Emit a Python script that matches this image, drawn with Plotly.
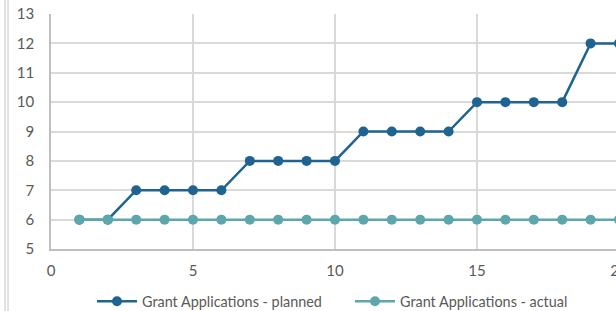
import plotly.graph_objects as go

x_vals = list(range(1, 21))
planned = [6, 6, 7, 7, 7, 7, 8, 8, 8, 8, 9, 9, 9, 9, 10, 10, 10, 10, 12, 12]
actual = [6] * 20
series_names = ["Grant Applications - planned", "Grant Applications - actual"]
x_ticks = [0, 5, 10, 15, 20]
x_range = [0, 20]

# the figure is a little wider than the 616 px window; its right edge is cut off like the reference
W, H = 632, 311
L, R, T, B = 51, 13, 14, 62
pw = W - L - R

fig = go.Figure()
fig.add_trace(go.Scatter(x=x_vals, y=planned, mode="lines+markers", name=series_names[0],
                         line=dict(color="#1F6391", width=2.5),
                         marker=dict(size=10, color="#1F6391"), cliponaxis=False,
                         legend="legend"))
fig.add_trace(go.Scatter(x=x_vals, y=actual, mode="lines+markers", name=series_names[1],
                         line=dict(color="#5DA6AC", width=2.5),
                         marker=dict(size=10, color="#5DA6AC"), cliponaxis=False,
                         legend="legend2"))

for px in (5, 8):
    xp = (px - L) / pw
    fig.add_shape(type="line", xref="paper", yref="paper", x0=xp, x1=xp, y0=-1, y1=2,
                  line=dict(color="#D9D9D9", width=1.5), layer="above")

leg_common = dict(orientation="h", y=-0.155, yanchor="top", xanchor="left",
                  font=dict(size=14.4, color="#595959"), itemwidth=40, bgcolor="rgba(0,0,0,0)")

fig.update_layout(
    width=W, height=H, margin=dict(l=L, r=R, t=T, b=B, autoexpand=False),
    paper_bgcolor="white", plot_bgcolor="white",
    font=dict(family="Lato, Open Sans, sans-serif", size=15, color="#595959"),
    showlegend=True,
    legend=dict(x=(92 - L) / pw, **leg_common),
    legend2=dict(x=(350 - L) / pw, **leg_common),
    xaxis=dict(range=x_range, tickvals=x_ticks, showgrid=True, gridcolor="#D9D9D9",
               gridwidth=1.5, showline=True, linecolor="#BFBFBF", linewidth=1.5, zeroline=False,
               ticks="", ticklabelstandoff=7, automargin=False),
    yaxis=dict(range=[5, 13], dtick=1, showgrid=True, gridcolor="#D9D9D9", gridwidth=1.5,
               showline=True, linecolor="#BFBFBF", linewidth=1.5, zeroline=False, ticks="",
               ticklabelstandoff=12, automargin=False),
)

fig.write_html("out.html", config={"displayModeBar": False},
               post_script="document.body.style.margin='0';document.body.style.overflow='hidden';")
